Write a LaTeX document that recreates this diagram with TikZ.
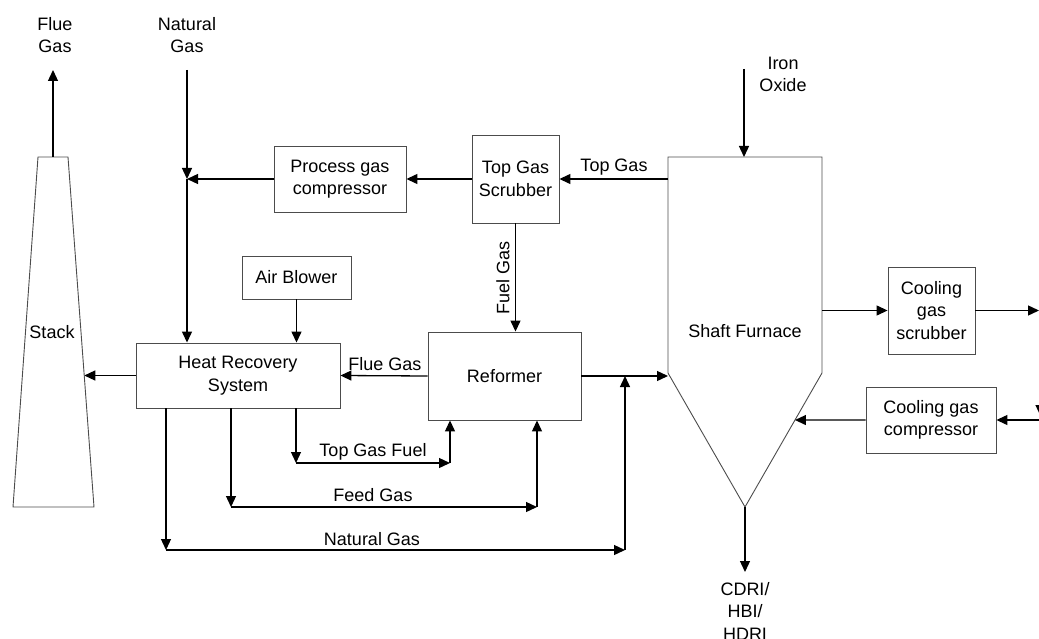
\documentclass[tikz,border=0pt]{standalone}
\usepackage{fontspec}
\setmainfont{Liberation Sans}
\usetikzlibrary{arrows.meta,calc}
\begin{document}
\begin{tikzpicture}[x=1pt,y=-1pt,
  every node/.style={font=\fontsize{18}{22.5}\selectfont, align=center, inner sep=0pt},
  box/.style={draw=black!70, line width=0.9pt, fill=white},
  outline/.style={draw=black!70, line width=0.9pt},
  arr/.style={draw=black, line width=1.3pt, -{Triangle[length=11pt,width=10pt]}},
  ln/.style={draw=black, line width=1.3pt}]
\useasboundingbox (0,0) rectangle (1039,639);

% stack
\coordinate (stTL) at (38,157);
\coordinate (stTR) at (68,157);
\coordinate (stBR) at (94,507);
\coordinate (stBL) at (13,507);
\draw[outline] (stTL) -- (stTR) -- (stBR) -- (stBL) -- cycle;
\node (stack) at (52,332) {Stack};
\coordinate (stTop) at (53,157);
\coordinate (fgTop) at (53,70);
\coordinate (stIn) at ($(stTR)!0.626!(stBR)$);

% shaft furnace
\coordinate (sfL) at (668,157);
\coordinate (sfR) at (822,157);
\coordinate (sfBR) at (822,373);
\coordinate (sfTip) at (745,507);
\coordinate (sfBL) at (668,373);
\draw[outline] (sfL) -- (sfR) -- (sfBR) -- (sfTip) -- (sfBL) -- cycle;
\node (sf) at (745,331) {Shaft Furnace};
\coordinate (sfTop) at (744,157);
\coordinate (ioTop) at (744,69);
\coordinate (cdriEnd) at (745,572);
\coordinate (sfIn) at ($(sfBR)!0.351!(sfTip)$);

% boxes
\node[box, minimum width=132, minimum height=66] (pgc) at (340,179) {Process gas\\compressor};
\node[box, minimum width=87, minimum height=88] (tgs) at (515.5,179) {Top Gas\\Scrubber};
\node[box, minimum width=109, minimum height=43] (ab) at (296.5,277.5) {Air Blower};
\node[box, minimum width=204, minimum height=65] (hrs) at (238,375.5) {Heat Recovery\\System};
\node[box, minimum width=153, minimum height=88] (ref) at (504.5,376) {Reformer};
\node[box, minimum width=87, minimum height=87] (cgs) at (931.5,310.5) {Cooling\\gas\\scrubber};
\node[box, minimum width=130, minimum height=66] (cgc) at (931,420) {Cooling gas\\compressor};

% free labels
\node (lflue) at (55,35) {Flue\\Gas};
\node (lng) at (187,35) {Natural\\Gas};
\node (lio) at (783,74.5) {Iron\\Oxide};
\node (lcdri) at (745,611) {CDRI/\\HBI/\\HDRI};

% natural gas feed
\coordinate (ngTop) at (187,70);
\coordinate (ngJ) at (187,179);
\draw[arr] (ngTop) -- (ngJ);
\draw[arr] (pgc.west) -- (ngJ);
\draw[arr] (ngJ) -- (hrs.north -| ngJ);

% flue gas out of stack
\draw[arr] (stTop) -- (fgTop);
\draw[arr] (hrs.west) -- (stIn |- hrs.west);

% top gas
\draw[arr] (sfL |- tgs.east) -- (tgs.east);
\node (ltg) at (614,167) {Top Gas};
\draw[arr] (tgs.west) -- (pgc.east);

% fuel gas
\draw[arr] (tgs.south) -- (ref.north -| tgs.south);
\node[rotate=90] (lfuel) at (503,278) {Fuel Gas};

% air blower
\draw[arr] (ab.south) -- (hrs.north -| ab.south);

% flue gas reformer -> HRS
\draw[arr] (ref.west) -- (hrs.east);
\node (lflue2) at (385,364) {Flue Gas};

% reformer -> furnace
\draw[arr] (ref.east) -- (sfBL |- ref.east);

% top gas fuel
\coordinate (tgf1) at (296,463);
\coordinate (tgf2) at (450,463);
\draw[arr] (hrs.south -| tgf1) -- (tgf1);
\draw[arr] (tgf1) -- (tgf2);
\draw[arr] (tgf2) -- (ref.south -| tgf2);
\node (ltgf) at (373,452) {Top Gas Fuel};

% feed gas
\coordinate (fg1) at (231,507);
\coordinate (fg2) at (537,507);
\draw[arr] (hrs.south -| fg1) -- (fg1);
\draw[arr] (fg1) -- (fg2);
\draw[arr] (fg2) -- (ref.south -| fg2);
\node (lfg) at (373,495) {Feed Gas};

% natural gas bypass
\coordinate (ng1) at (166,550);
\coordinate (ng2) at (625,550);
\draw[arr] (hrs.south -| ng1) -- (ng1);
\draw[arr] (ng1) -- (ng2);
\draw[arr] (ng2) -- (ng2 |- ref.east);
\node (lng2) at (372,539) {Natural Gas};

% iron oxide, product
\draw[arr] (ioTop) -- (sfTop);
\draw[arr] (sfTip) -- (cdriEnd);

% cooling loop
\coordinate (rEdge1) at (1039,310.5);
\coordinate (rEdge2) at (1039,420);
\coordinate (rv1) at (1040.5,330);
\coordinate (rv2) at (1040.5,416);
\draw[arr] (sfR |- cgs.west) -- (cgs.west);
\draw[arr] (cgs.east) -- (rEdge1);
\draw[arr] (rv1) -- (rv2);
\draw[arr] (rEdge2) -- (cgc.east);
\draw[arr] (cgc.west) -- (sfIn);
\end{tikzpicture}
\end{document}
